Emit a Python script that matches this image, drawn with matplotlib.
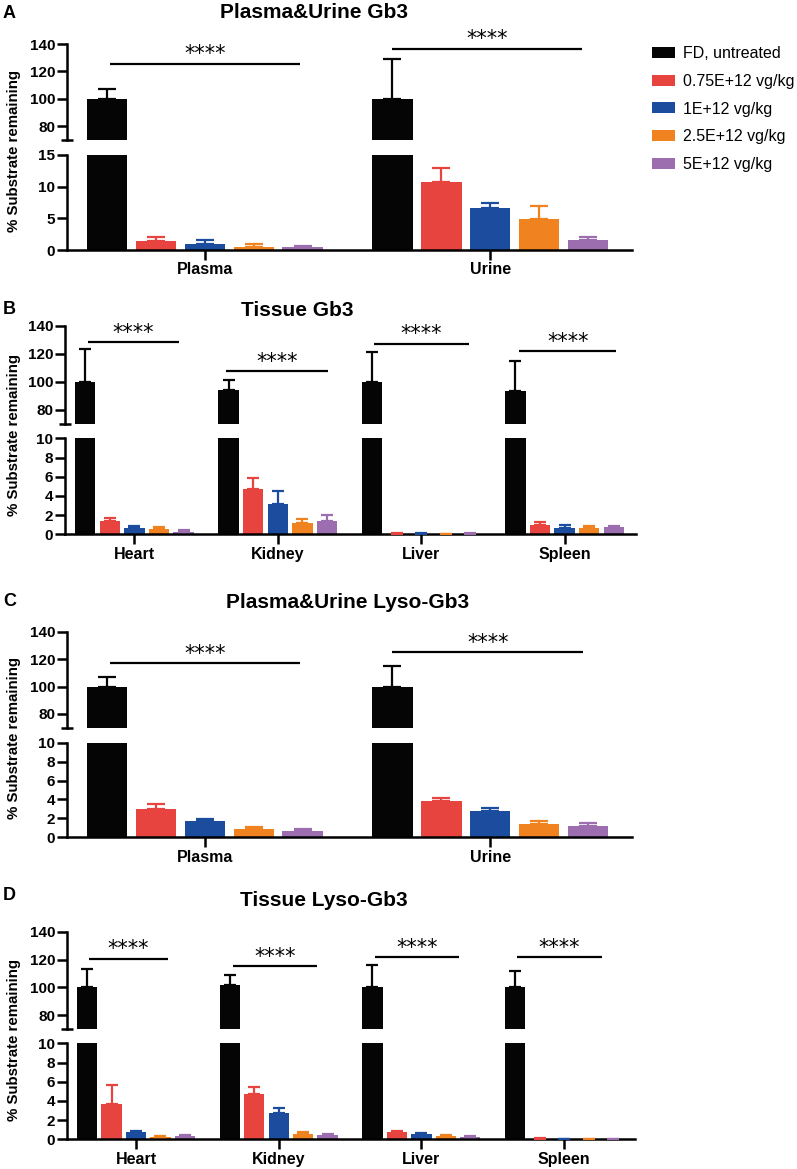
import matplotlib
matplotlib.use("Agg")
import matplotlib.pyplot as plt
from matplotlib.patches import Patch

W, H = 797, 1169
plt.rcParams['font.family'] = ['Liberation Sans', 'DejaVu Sans']

# ---------------- data ----------------
series = ["FD, untreated", "0.75E+12 vg/kg", "1E+12 vg/kg", "2.5E+12 vg/kg", "5E+12 vg/kg"]
colors = ["#050505", "#E8443F", "#1B4C9D", "#F08220", "#9C6EAF"]

a_title = "Plasma&Urine Gb3"
a_categories = ["Plasma", "Urine"]
a_mean = [[100, 1.47, 0.90, 0.53, 0.42],
          [100, 10.8, 6.7, 4.9, 1.65]]
a_err = [[6.8, 0.53, 0.68, 0.37, 0.26],
         [28.8, 2.1, 0.75, 2.1, 0.40]]
a_sig_y = [125.6, 136.7]

b_title = "Tissue Gb3"
b_categories = ["Heart", "Kidney", "Liver", "Spleen"]
b_mean = [[100, 1.42, 0.63, 0.52, 0.24],
          [94.5, 4.72, 3.13, 1.22, 1.39],
          [100, 0.08, 0.06, 0.05, 0.07],
          [93.8, 0.97, 0.66, 0.66, 0.73]]
b_err = [[23.7, 0.32, 0.27, 0.21, 0.21],
         [6.5, 1.18, 1.35, 0.34, 0.62],
         [21.4, 0.03, 0.03, 0.03, 0.03],
         [21.0, 0.28, 0.28, 0.24, 0.17]]
b_sig_y = [128.4, 107.4, 127.0, 121.9]

c_title = "Plasma&Urine Lyso-Gb3"
c_categories = ["Plasma", "Urine"]
c_mean = [[100, 3.03, 1.76, 0.88, 0.70],
          [100, 3.84, 2.82, 1.44, 1.23]]
c_err = [[6.6, 0.46, 0.18, 0.18, 0.18],
         [14.7, 0.31, 0.28, 0.32, 0.28]]
c_sig_y = [116.8, 124.9]

d_title = "Tissue Lyso-Gb3"
d_categories = ["Heart", "Kidney", "Liver", "Spleen"]
d_mean = [[100.5, 3.65, 0.76, 0.28, 0.33],
          [101.9, 4.69, 2.78, 0.59, 0.42],
          [100.5, 0.75, 0.52, 0.35, 0.28],
          [100.5, 0.08, 0.06, 0.03, 0.05]]
d_err = [[12.7, 2.0, 0.14, 0.10, 0.11],
         [6.8, 0.73, 0.52, 0.21, 0.18],
         [15.2, 0.10, 0.14, 0.10, 0.07],
         [11.5, 0.02, 0.02, 0.01, 0.02]]
d_sig_y = [120.5, 115.3, 121.6, 121.6]

sig_label = "****"

# ---------------- layout ----------------
G = 5.83      # group spacing in bar steps
BW = 0.83     # bar width

fig = plt.figure(figsize=(W / 100, H / 100), dpi=100)


def px_rect(x0, x1, ytop, ybot):
    return [x0 / W, 1 - ybot / H, (x1 - x0) / W, (ybot - ytop) / H]


def draw_panel(letter, title, cats, mean, err, sig_y, sig_x0, sig_x1,
               lower_max, lower_ticks, lay):
    (x0, x1, ut, ub, lt, lb, title_x, title_y, letter_y, ylab_y, capsize) = lay
    axu = fig.add_axes(px_rect(x0, x1, ut, ub))
    axl = fig.add_axes(px_rect(x0, x1, lt, lb))
    n = len(cats)
    xlim = (-0.82, (n - 1) * G + 4 + 0.9)
    for ax in (axu, axl):
        for g in range(n):
            for i in range(5):
                x = g * G + i
                ax.bar(x, mean[g][i], width=BW, color=colors[i], linewidth=0, zorder=2)
                ax.errorbar(x, mean[g][i], yerr=[[0], [err[g][i]]], fmt='none',
                            ecolor=colors[i], capsize=capsize, elinewidth=1.6,
                            capthick=1.6, zorder=3)
        ax.set_xlim(*xlim)
        ax.spines['top'].set_visible(False)
        ax.spines['right'].set_visible(False)
        for s in ('left', 'bottom'):
            ax.spines[s].set_linewidth(1.8)
        ax.tick_params(axis='y', which='major', direction='out', length=7, width=1.8,
                       pad=1.5, labelsize=11)
    # upper axis
    axu.set_ylim(70, 140)
    axu.set_yticks([80, 100, 120, 140])
    axu.set_yticklabels(['80', '100', '120', '140'], fontweight='bold', fontsize=11)
    axu.set_yticks([70], minor=True)
    axu.tick_params(axis='y', which='minor', direction='inout', length=9, width=1.8)
    axu.spines['bottom'].set_visible(False)
    axu.set_xticks([])
    # lower axis
    axl.set_ylim(0, lower_max)
    axl.set_yticks(lower_ticks)
    axl.set_yticklabels([str(t) for t in lower_ticks], fontweight='bold', fontsize=11)
    axl.set_yticks([lower_max], minor=True)
    axl.tick_params(axis='y', which='minor', direction='in', length=4, width=1.8)
    axl.set_xticks([g * G + 2 for g in range(n)])
    axl.set_xticklabels(cats, fontweight='bold', fontsize=11.5)
    axl.tick_params(axis='x', direction='out', length=7, width=1.8, pad=2)
    # significance
    for g in range(n):
        xa = g * G + sig_x0[g]
        xb = g * G + sig_x1[g]
        axu.plot([xa, xb], [sig_y[g], sig_y[g]], color='black', lw=1.6,
                 clip_on=False, solid_capstyle='butt')
        axu.annotate(sig_label, xy=((xa + xb) / 2, sig_y[g]), xytext=(0, 2.5),
                     textcoords='offset points', ha='center', va='baseline',
                     fontsize=15, family='DejaVu Sans', annotation_clip=False)
    # texts
    fig.text(title_x / W, 1 - title_y / H, title, ha='center', va='center',
             fontsize=15, fontweight='bold')
    fig.text(3 / W, 1 - letter_y / H, letter, ha='left', va='center',
             fontsize=13, fontweight='bold')
    fig.text(14 / W, 1 - ylab_y / H, "% Substrate remaining", rotation=90,
             ha='center', va='center', fontsize=10.8, fontweight='bold')


draw_panel("A", a_title, a_categories, a_mean, a_err, a_sig_y,
           [0.06, 0.0], [3.94, 3.88], 15, [0, 5, 10, 15],
           (67, 632, 44, 139.7, 155, 250, 314, 12, 13, 151, 6.5))
draw_panel("B", b_title, b_categories, b_mean, b_err, b_sig_y,
           [0.12, -0.1, 0.08, 0.16], [3.8, 4.03, 3.93, 4.09], 10, [0, 2, 4, 6, 8, 10],
           (65, 636, 325.7, 424, 438.3, 534.3, 297, 310, 310, 435, 4.3))
draw_panel("C", c_title, c_categories, c_mean, c_err, c_sig_y,
           [0.06, 0.0], [3.94, 3.9], 10, [0, 2, 4, 6, 8, 10],
           (67, 632, 631.7, 727.6, 742.7, 837.3, 348, 603, 602, 738, 6.5))
draw_panel("D", d_title, d_categories, d_mean, d_err, d_sig_y,
           [0.09, 0.12, 0.09, 0.07], [3.3, 3.56, 3.53, 3.55], 10, [0, 2, 4, 6, 8, 10],
           (67, 635, 931.7, 1029, 1043.3, 1139.3, 324, 901, 895, 1040, 4.3))

handles = [Patch(facecolor=c, edgecolor='none', label=s) for c, s in zip(colors, series)]
fig.legend(handles=handles, loc='upper left', bbox_to_anchor=(652 / W, 1 - 46 / H),
           frameon=False, fontsize=11.5, handlelength=1.44, handleheight=0.69,
           handletextpad=0.5, labelspacing=0.8, borderpad=0, borderaxespad=0)

fig.savefig("out.png", dpi=100)
